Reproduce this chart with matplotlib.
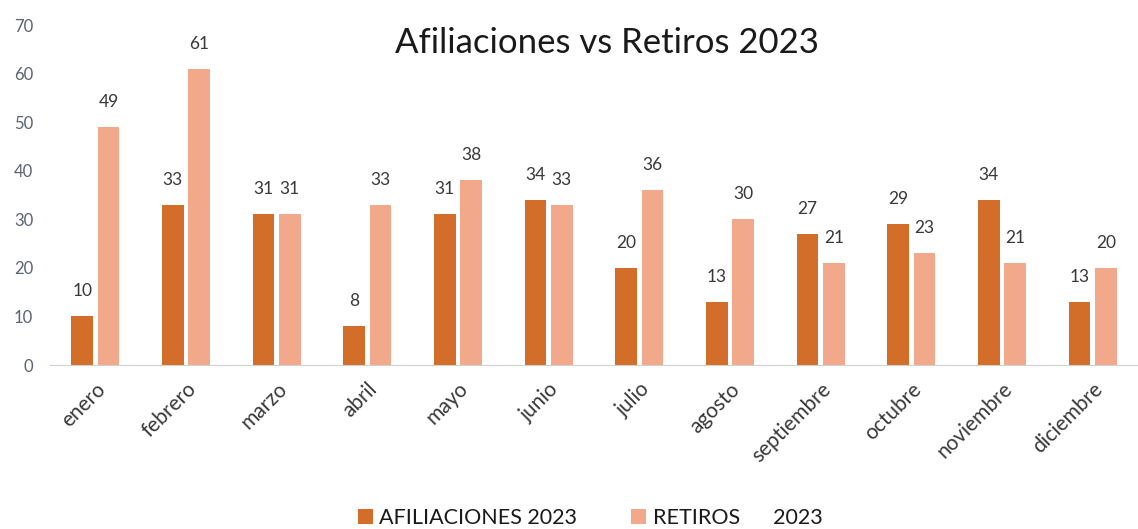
import numpy as np
import matplotlib
matplotlib.use('Agg')
import matplotlib.pyplot as plt

plt.rcParams['font.family'] = ['Lato', 'DejaVu Sans']

meses = ['enero', 'febrero', 'marzo', 'abril', 'mayo', 'junio', 'julio',
         'agosto', 'septiembre', 'octubre', 'noviembre', 'diciembre']
afiliaciones = [10, 33, 31, 8, 31, 34, 20, 13, 27, 29, 34, 13]
retiros = [49, 61, 31, 33, 38, 33, 36, 30, 21, 23, 21, 20]

fig = plt.figure(figsize=(11.38, 5.29), dpi=100)
ax = fig.add_axes([50 / 1138, 1 - 365 / 529, 1088 / 1138, 340 / 529])

x = np.arange(len(meses))
w = 0.24
b1 = ax.bar(x - 0.145, afiliaciones, w, color='#D36E2A', label='AFILIACIONES 2023')
b2 = ax.bar(x + 0.145, retiros, w, color='#F2A98B', label='RETIROS      2023')

for bars in (b1, b2):
    for r in bars:
        ax.text(r.get_x() + r.get_width() / 2, r.get_height() + 3.5, str(int(r.get_height())),
                ha='center', va='bottom', fontsize=12.5, color='#383838')

ax.set_xlim(-0.5, len(meses) - 0.5)
ax.set_ylim(0, 70)
ax.set_yticks(range(0, 71, 10))
ax.set_xticks(x)
ax.set_xticklabels(meses, rotation=45, ha='right', rotation_mode='anchor', fontsize=15, color='#383838')
ax.tick_params(axis='y', labelsize=12, colors='#5a6470', length=0, pad=12)
ax.tick_params(axis='x', length=0, pad=10)
for s in ['top', 'right', 'left']:
    ax.spines[s].set_visible(False)
ax.spines['bottom'].set_color('#d0d0d0')
ax.spines['bottom'].set_linestyle((0, (2, 1)))

fig.text(607 / 1138, 1 - 43 / 529, 'Afiliaciones vs Retiros 2023', ha='center', va='center',
         fontsize=25, color='#1a1a1a')

fig.legend(handles=[b1, b2], loc='center', bbox_to_anchor=(590 / 1138, 1 - 518 / 529), ncol=2,
           frameon=False, fontsize=15.5, handlelength=0.7, handleheight=0.7, handletextpad=0.3,
           columnspacing=2.5, labelcolor='#1a1a1a')

fig.savefig('out.png', dpi=100)
